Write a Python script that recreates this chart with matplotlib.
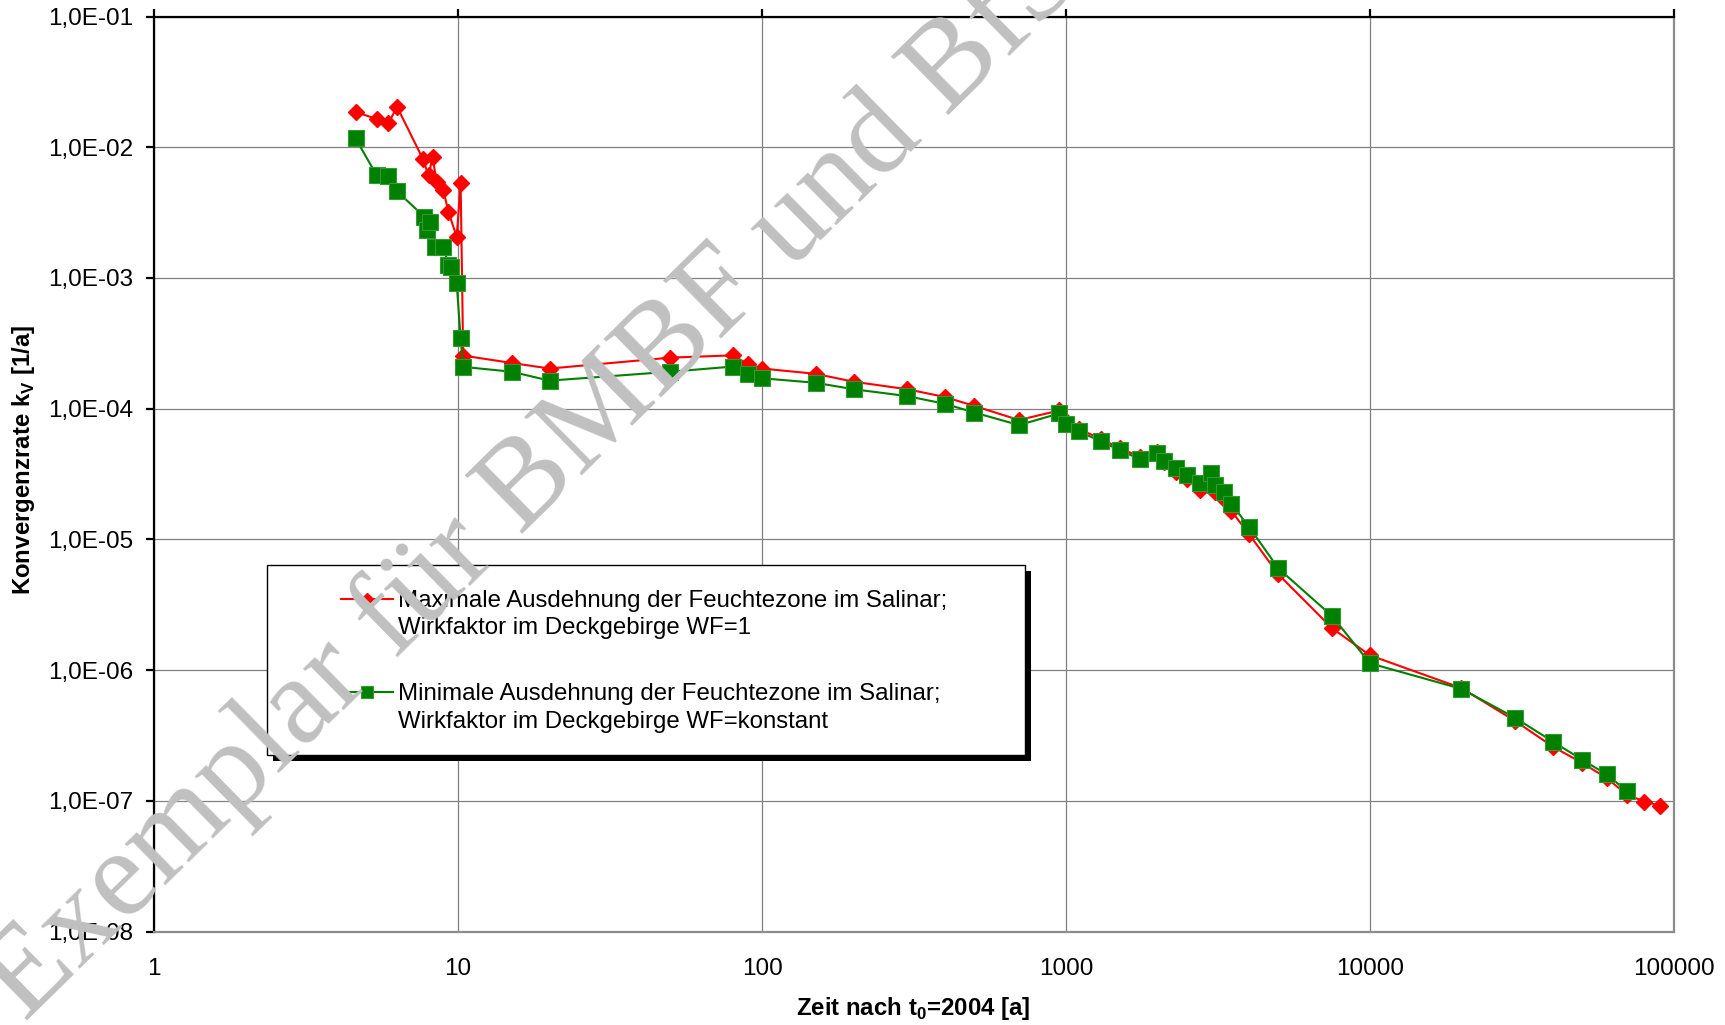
import numpy as np
import matplotlib
matplotlib.use("Agg")
import matplotlib.pyplot as plt
from matplotlib.patches import Rectangle
from matplotlib.ticker import FixedLocator, FuncFormatter, NullLocator
from matplotlib.legend_handler import HandlerLine2D

plt.rcParams['font.family'] = 'Liberation Sans'
plt.rcParams['mathtext.fontset'] = 'custom'
plt.rcParams['mathtext.rm'] = 'Liberation Sans'
plt.rcParams['mathtext.bf'] = 'Liberation Sans:bold'

# Zeit nach t0 [a] und Konvergenzrate [1/a]
t_max = [4.6, 5.4, 5.9, 6.3, 7.65, 8.0, 8.25, 8.5, 8.95, 9.3, 9.9, 10.2, 10.4,
         15, 20, 50, 80, 90, 100, 150, 200, 300, 400, 500,
         700, 950, 1000, 1100, 1300, 1500, 1750, 2000, 2100, 2300, 2500, 2750,
         3000, 3100, 3300, 3500, 4000,
         5000, 7500, 10000, 20000, 30000, 40000, 50000, 60000, 70000, 80000, 90000]
k_max = [1.87e-2, 1.64e-2, 1.52e-2, 2.04e-2, 8.2e-3, 6.1e-3, 8.4e-3, 5.45e-3, 4.7e-3,
         3.2e-3, 2.07e-3, 5.3e-3, 2.55e-4,
         2.24e-4, 2.03e-4, 2.46e-4, 2.56e-4, 2.2e-4, 2.03e-4, 1.85e-4, 1.61e-4,
         1.41e-4, 1.23e-4, 1.05e-4,
         8.2e-5, 9.7e-5, 8.0e-5, 7.0e-5, 5.9e-5, 5.0e-5, 4.3e-5, 4.7e-5, 3.9e-5,
         3.3e-5, 2.9e-5, 2.4e-5, 2.6e-5, 2.3e-5, 2.05e-5, 1.65e-5, 1.1e-5,
         5.4e-6, 2.1e-6, 1.3e-6, 7.3e-7, 4.1e-7, 2.6e-7, 1.95e-7, 1.5e-7, 1.12e-7,
         9.9e-8, 9.2e-8]

t_min = [4.6, 5.4, 5.9, 6.3, 7.75, 7.9, 8.1, 8.4, 8.95, 9.3, 9.5, 9.9, 10.2, 10.4,
         15, 20, 50, 80, 90, 100, 150, 200, 300, 400, 500,
         700, 950, 1000, 1100, 1300, 1500, 1750, 2000, 2100, 2300, 2500, 2750,
         3000, 3100, 3300, 3500, 4000,
         5000, 7500, 10000, 20000, 30000, 40000, 50000, 60000, 70000]
k_min = [1.17e-2, 6.1e-3, 6.0e-3, 4.6e-3, 2.94e-3, 2.33e-3, 2.69e-3, 1.73e-3, 1.73e-3,
         1.26e-3, 1.22e-3, 9.1e-4, 3.46e-4, 2.09e-4,
         1.92e-4, 1.64e-4, 1.92e-4, 2.1e-4, 1.85e-4, 1.71e-4, 1.58e-4, 1.41e-4,
         1.25e-4, 1.09e-4, 9.35e-5,
         7.5e-5, 9.2e-5, 7.7e-5, 6.7e-5, 5.66e-5, 4.83e-5, 4.12e-5, 4.6e-5, 3.98e-5,
         3.5e-5, 3.11e-5, 2.69e-5, 3.2e-5, 2.6e-5, 2.3e-5, 1.87e-5, 1.25e-5,
         6.0e-6, 2.6e-6, 1.13e-6, 7.2e-7, 4.33e-7, 2.84e-7, 2.06e-7, 1.6e-7, 1.19e-7]

label_max = "Maximale Ausdehnung der Feuchtezone im Salinar;\nWirkfaktor im Deckgebirge WF=1"
label_min = "Minimale Ausdehnung der Feuchtezone im Salinar;\nWirkfaktor im Deckgebirge WF=konstant"

x_ticks = [1, 10, 100, 1000, 10000, 100000]
y_ticks = [1e-8, 1e-7, 1e-6, 1e-5, 1e-4, 1e-3, 1e-2, 1e-1]

fs_tick = 17.5
fs_leg = 17.3
fs_lab = 17.3

fig = plt.figure(figsize=(17.25, 10.25), dpi=100)
ax = fig.add_axes([0.0893, 0.0910, 0.8811, 0.8929])

ax.plot(t_max, k_max, color='#FF0000', lw=1.5, marker='D', ms=8.5,
        mec='#FF0000', mfc='#FF0000', label=label_max, zorder=3)
ax.plot(t_min, k_min, color='#008000', lw=1.5, marker='s', ms=12,
        mec='#339933', mew=0.8, mfc='#008000', label=label_min, zorder=3)

ax.set_xscale('log')
ax.set_yscale('log')
ax.set_xlim(1, 100000)
ax.set_ylim(1e-8, 1e-1)

ax.xaxis.set_major_locator(FixedLocator(x_ticks))
ax.xaxis.set_minor_locator(NullLocator())
ax.xaxis.set_major_formatter(FuncFormatter(lambda v, p: f"{v:.0f}"))
ax.yaxis.set_major_locator(FixedLocator(y_ticks))
ax.yaxis.set_minor_locator(NullLocator())
ax.yaxis.set_major_formatter(FuncFormatter(lambda v, p: f"{v:.1E}".replace('.', ',')))

ax.grid(True, which='major', color='#808080', lw=0.9)
ax.set_axisbelow(True)

for side in ['left', 'top']:
    ax.spines[side].set_color('black')
    ax.spines[side].set_linewidth(1.6)
for side in ['bottom', 'right']:
    ax.spines[side].set_color('#8c8c8c')
    ax.spines[side].set_linewidth(1.6)

ax.tick_params(axis='x', top=True, bottom=False, labeltop=False, labelbottom=True,
               direction='out', length=6, width=1.6, pad=13, labelsize=fs_tick)
ax.tick_params(axis='y', left=True, right=False, direction='out', length=6,
               width=1.6, pad=9, labelsize=fs_tick)

fig.text(913 / 1725, 1 - 1009 / 1025, r'Zeit nach t$_\mathbf{0}$=2004 [a]',
         fontsize=fs_lab, fontweight='bold', ha='center', va='center')
fig.text(24 / 1725, 0.551, r'Konvergenzrate k$_\mathbf{V}$ [1/a]',
         fontsize=fs_lab, fontweight='bold', rotation=90, ha='center', va='center')


# legend handles sit on the first line of each two-line label
class FirstLineHandler(HandlerLine2D):
    def create_artists(self, legend, orig_handle, xdescent, ydescent, width,
                       height, fontsize, trans):
        arts = super().create_artists(legend, orig_handle, xdescent, ydescent,
                                      width, height, fontsize, trans)
        for a in arts:
            a.set_ydata(np.asarray(a.get_ydata()) + 0.66 * fontsize)
        return arts


handles, labels = ax.get_legend_handles_labels()
leg = ax.legend(handles, labels, loc='upper left', bbox_to_anchor=(0.123, 0.3735),
                frameon=False, fontsize=fs_leg, borderpad=0, borderaxespad=0,
                handlelength=2.17, handletextpad=0.22, labelspacing=1.84,
                markerscale=0.72,
                handler_map={h: FirstLineHandler() for h in handles})
for t in leg.get_texts():
    t.set_linespacing(1.31)
leg.set_zorder(8)

# legend frame with black shadow
ax.add_patch(Rectangle((0.0743 + 0.004, 0.1931 - 0.0066), 0.4987, 0.2076,
                       transform=ax.transAxes, fc='black', ec='black', lw=0, zorder=6))
ax.add_patch(Rectangle((0.0743, 0.1931), 0.4987, 0.2076, transform=ax.transAxes,
                       fc='white', ec='black', lw=1.0, zorder=7))

# watermark
fig.text(25 / 1725, 1 - 1023 / 1025, 'Exemplar für BMBF und BfS', rotation=44.5,
         rotation_mode='anchor', ha='left', va='baseline', fontsize=90,
         family='Liberation Serif', color='#C0C0C0', zorder=20)

fig.savefig('out.png', dpi=100)
